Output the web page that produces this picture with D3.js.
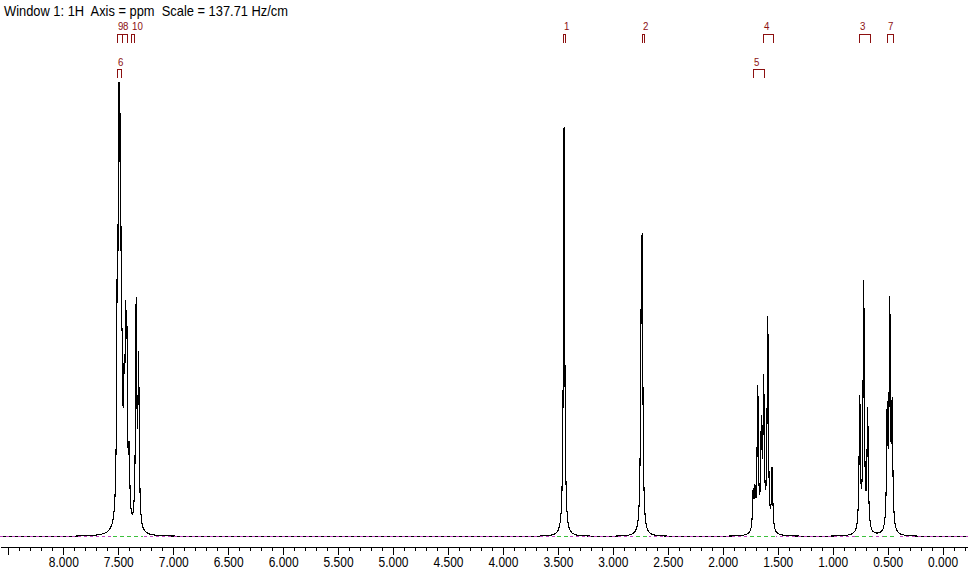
<!DOCTYPE html>
<html><head><meta charset="utf-8">
<script src="https://cdn.jsdelivr.net/npm/d3@7"></script>
<style>body{margin:0;background:#fff}svg{display:block;background:#fff}</style>
</head><body><svg id="c" width="968" height="585"></svg>
<script>
// ---------- data ----------
const titleText = "Window 1: 1H  Axis = ppm  Scale = 137.71 Hz/cm";

// individual resonance lines: chemical shift (ppm) and relative intensity
const peakPpm = [
  7.508, 7.493, 7.480, 7.465, 7.447, 7.433, 7.422, 7.401, 7.337, 7.315,   // aromatic
  3.444,                                                                  // 1
  2.743, 2.733,                                                           // 2
  1.724, 1.708, 1.682, 1.649, 1.628, 1.591, 1.551,                        // 5 / 4
  0.754, 0.718, 0.682,                                                    // 3
  0.504, 0.481, 0.459                                                     // 7
];
const peakIntensity = [
  50.1, 73.9, 67.9, 22.5, 21.1, 34.0, 33.3, 13.5, 48.4, 35.7,
  89.9,
  33.8, 55.5,
  8.0, 7.5, 31.0, 21.5, 31.5, 46.5, 13.5,
  29.0, 54.3, 26.2,
  25.1, 48.4, 25.3
];

// integral regions (green baseline segments)
const integralFrom = [7.550, 3.510, 2.791, 1.753, 0.798, 0.544];
const integralTo   = [7.277, 3.392, 2.672, 1.517, 0.644, 0.416];

// peak pick labels
const labelText = ["9", "8", "10", "6", "1", "2", "4", "5", "3", "7"];
const labelFrom = [7.513, 7.468, 7.386, 7.513, 3.458, 2.739, 1.638, 1.729, 0.762, 0.510];
const labelTo   = [7.468, 7.422, 7.359, 7.477, 3.437, 2.715, 1.541, 1.623, 0.662, 0.450];
const labelRow  = [0, 0, 0, 1, 0, 0, 0, 1, 0, 0];

// axis
const majorTicks = [8.5, 8.0, 7.5, 7.0, 6.5, 6.0, 5.5, 5.0, 4.5, 4.0, 3.5, 3.0, 2.5, 2.0, 1.5, 1.0, 0.5, 0.0];
const majorTickLabels = ["", "8.000", "7.500", "7.000", "6.500", "6.000", "5.500", "5.000", "4.500",
  "4.000", "3.500", "3.000", "2.500", "2.000", "1.500", "1.000", "0.500", "0.000"];
const ppmDomain = [8.576, -0.231];

// ---------- drawing ----------
const W = 968, H = 585;
const svg = d3.select("#c");
const x = d3.scaleLinear().domain(ppmDomain).range([0, W]);
const y = d3.scaleLinear().domain([0, 100]).range([536.5, 81.5]);
const gamma = 0.0068; // Lorentzian half width (ppm)

// title
svg.append("text").attr("x", 4).attr("y", 15.5)
  .attr("style", "white-space:pre")
  .attr("font-family", "Liberation Sans, Arial, sans-serif").attr("font-size", 14.5)
  .attr("textLength", 284).attr("lengthAdjust", "spacingAndGlyphs")
  .attr("fill", "#000").text(titleText);

// spectrum
const pts = [];
for (let p = ppmDomain[0]; p >= ppmDomain[1]; p -= 0.0004) {
  let s = 0;
  for (let i = 0; i < peakPpm.length; i++) {
    const d = (p - peakPpm[i]) / gamma;
    s += peakIntensity[i] / (1 + d * d);
  }
  pts.push([p, s]);
}
svg.append("path").datum(pts)
  .attr("d", d3.line().x(d => x(d[0])).y(d => y(d[1])))
  .attr("fill", "none").attr("stroke", "#000").attr("stroke-width", 1.1)
  .attr("shape-rendering", "crispEdges");

// baseline (magenta dashed over black trace)
svg.append("line").attr("x1", 0).attr("x2", W).attr("y1", y(0)).attr("y2", y(0))
  .attr("stroke", "#c040c0").attr("stroke-width", 1).attr("stroke-dasharray", "3,3")
  .attr("shape-rendering", "crispEdges");

// integral regions
const ig = svg.append("g").attr("shape-rendering", "crispEdges");
integralFrom.forEach((f, i) => {
  ig.append("line").attr("x1", x(f)).attr("x2", x(integralTo[i])).attr("y1", y(0)).attr("y2", y(0))
    .attr("stroke", "#fff").attr("stroke-width", 1);
  ig.append("line").attr("x1", x(f)).attr("x2", x(integralTo[i])).attr("y1", y(0)).attr("y2", y(0))
    .attr("stroke", "#3cc03c").attr("stroke-width", 1).attr("stroke-dasharray", "4,3");
});

// peak labels
const lg = svg.append("g").attr("fill", "none").attr("stroke", "#8c1010").attr("stroke-width", 1)
  .attr("shape-rendering", "crispEdges");
const rowTop = [34.5, 69.5], rowBot = [42.5, 78], rowText = [30, 66];
labelText.forEach((t, i) => {
  const x1 = Math.round(x(labelFrom[i])) + 0.5, x2 = Math.round(x(labelTo[i])) + 0.5;
  const r = labelRow[i];
  lg.append("path").attr("d", `M${x1},${rowBot[r]}V${rowTop[r]}H${x2}V${rowBot[r]}`);
  svg.append("text").attr("x", x1 + 0.5).attr("y", rowText[r])
    .attr("font-family", "Liberation Sans, Arial, sans-serif").attr("font-size", 11.5)
    .attr("textLength", t.length * 5.4).attr("lengthAdjust", "spacingAndGlyphs")
    .attr("fill", "#8c1010").text(t);
});

// axis
const axisY = 546.5;
const minor = d3.range(-2, 86).map(v => v / 10);
svg.append("g").attr("transform", `translate(0,${axisY})`).attr("shape-rendering", "crispEdges")
  .call(d3.axisBottom(x).tickValues(minor).tickSize(4).tickSizeOuter(0).tickFormat(""))
  .call(g => g.selectAll("line,path").attr("stroke", "#000"));
const ax = svg.append("g").attr("transform", `translate(0,${axisY})`).attr("shape-rendering", "crispEdges")
  .call(d3.axisBottom(x).tickValues(majorTicks).tickSize(8).tickSizeOuter(0).tickPadding(3)
    .tickFormat((d, i) => majorTickLabels[i]));
ax.select(".domain").remove();
ax.selectAll("line").attr("stroke", "#000");
ax.selectAll("text").attr("font-family", "Liberation Sans, Arial, sans-serif").attr("font-size", 14)
  .attr("fill", "#000").attr("textLength", 30).attr("lengthAdjust", "spacingAndGlyphs");
</script></body></html>
